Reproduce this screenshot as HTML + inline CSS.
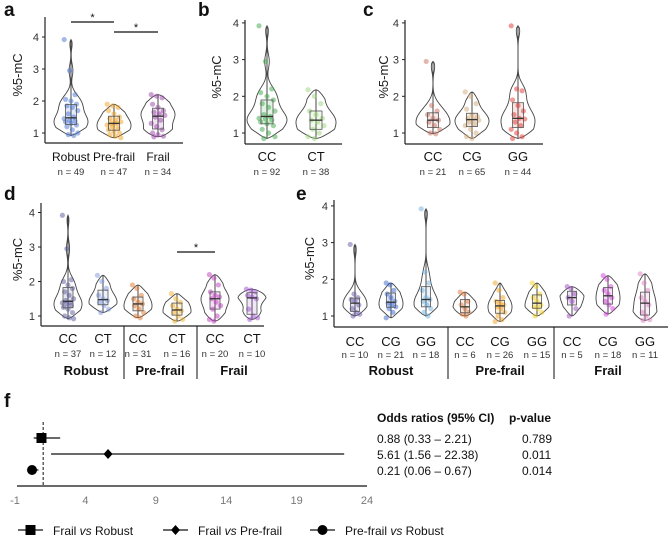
<!DOCTYPE html>
<html><head><meta charset="utf-8"><style>
html,body{margin:0;padding:0;background:#fff}
svg{display:block;font-family:"Liberation Sans",Arial,sans-serif}
</style></head><body>
<svg id="fig" width="669" height="540" viewBox="0 0 669 540" xmlns="http://www.w3.org/2000/svg"></svg>
<script>
// ---------- data ----------
const aCategories=["Robust","Pre-frail","Frail"];
const aCounts=[49,47,34];
const aRobust=[3.92,2.95,2.2,2.05,2.0,1.9,1.85,1.8,1.7,1.6,1.5,1.45,1.4,1.38,1.35,1.3,1.25,1.2,1.1,1.0,0.95,0.92];
const aPrefrail=[1.9,1.85,1.8,1.7,1.6,1.5,1.45,1.4,1.35,1.3,1.3,1.25,1.2,1.15,1.1,1.05,1.0,0.95,0.9,0.85];
const aFrail=[2.2,2.15,2.1,1.9,1.8,1.7,1.65,1.6,1.55,1.5,1.4,1.3,1.2,1.1,1.0,0.95,0.9,0.88];
const bCategories=["CC","CT"];
const bCounts=[92,38];
const bCC=[3.92,2.95,2.2,2.1,2.0,1.9,1.8,1.7,1.6,1.5,1.45,1.4,1.38,1.35,1.3,1.25,1.2,1.1,1.0,0.9,0.85];
const bCT=[2.18,2.0,1.8,1.6,1.5,1.4,1.35,1.3,1.2,1.1,1.0,0.9,0.85];
const cCategories=["CC","CG","GG"];
const cCounts=[21,65,44];
const cCC=[2.95,1.75,1.6,1.5,1.4,1.35,1.3,1.2,1.1,1.0,0.98];
const cCG=[2.12,2.0,1.8,1.65,1.5,1.45,1.4,1.38,1.35,1.3,1.25,1.2,1.1,1.0,0.9,0.85];
const cGG=[3.92,2.2,2.15,1.9,1.75,1.6,1.5,1.4,1.38,1.3,1.2,1.1,1.0,0.9,0.85];
const dCategories=["CC","CT","CC","CT","CC","CT"];
const dCounts=[37,12,31,16,20,10];
const dGroups=["Robust","Pre-frail","Frail"];
const dRobCC=[3.92,2.95,2.05,2.0,1.9,1.8,1.7,1.6,1.5,1.45,1.4,1.38,1.35,1.3,1.25,1.2,1.1,1.0,0.95,0.92];
const dRobCT=[2.18,2.0,1.8,1.6,1.5,1.45,1.4,1.3,1.2,1.1];
const dPreCC=[1.9,1.8,1.6,1.5,1.4,1.35,1.3,1.2,1.1,1.0,0.95];
const dPreCT=[1.65,1.5,1.4,1.3,1.2,1.15,1.1,1.0,0.9,0.85];
const dFraCC=[2.2,2.1,1.9,1.7,1.6,1.55,1.5,1.4,1.3,1.2,1.0,0.9,0.85];
const dFraCT=[1.78,1.75,1.7,1.6,1.55,1.5,1.2,1.0,0.95,0.9];
const eCategories=["CC","CG","GG","CC","CG","GG","CC","CG","GG"];
const eCounts=[10,21,18,6,26,15,5,18,11];
const eRobCC=[2.95,1.6,1.5,1.45,1.4,1.3,1.2,1.1,1.05,1.0];
const eRobCG=[1.9,1.85,1.7,1.6,1.5,1.4,1.35,1.3,1.25,1.2,1.1,0.95];
const eRobGG=[3.92,2.2,1.9,1.7,1.5,1.45,1.4,1.3,1.2,1.1,1.0];
const ePreCC=[1.65,1.6,1.4,1.3,1.2,1.1,1.05,1.0];
const ePreCG=[1.9,1.7,1.5,1.4,1.35,1.3,1.25,1.2,1.1,1.0,0.9,0.85];
const ePreGG=[1.9,1.8,1.6,1.5,1.4,1.3,1.25,1.2,1.1,1.0];
const eFraCC=[1.8,1.75,1.6,1.5,1.4,1.2,1.0];
const eFraCG=[2.1,2.0,1.8,1.7,1.6,1.5,1.4,1.3,1.2,1.05];
const eFraGG=[2.15,1.9,1.7,1.5,1.4,1.3,1.1,1.0,0.9,0.88];
const yTicks=[1,2,3,4];
const fLabels=["Frail vs Robust","Frail vs Pre-frail","Pre-frail vs Robust"];
const fOR=[0.88,5.61,0.21];
const fLow=[0.33,1.56,0.06];
const fHigh=[2.21,22.38,0.67];
const fP=["0.789","0.011","0.014"];
const fTicks=[-1,4,9,14,19,24];

// ---------- helpers ----------
const svg=document.getElementById('fig');
const NS="http://www.w3.org/2000/svg";
function mk(tag,attrs,parent,text){const e=document.createElementNS(NS,tag);for(const k in attrs)e.setAttribute(k,attrs[k]);if(text!==undefined)e.textContent=text;(parent||svg).appendChild(e);return e;}
function quant(s,p){const a=[...s].sort((x,y)=>x-y);const i=(a.length-1)*p;const lo=Math.floor(i),hi=Math.ceil(i);return a[lo]+(a[hi]-a[lo])*(i-lo);}

function panel(cfg){
  const g=mk('g',{});
  
  
  const Y=v=>cfg.y1-(v-1)*cfg.unit;
  const L=mk('text',{x:cfg.letterX,y:cfg.letterY,'font-size':19,'font-weight':'bold',fill:'#111'},g,cfg.letter);
  
  
  const t=mk('text',{transform:`translate(${cfg.titleX},${(cfg.top+cfg.bottom)/2-5}) rotate(-90)`,'text-anchor':'middle','font-size':13,fill:'#222'},g,'%5-mC');
  
  
  const ya=mk('line',{x1:cfg.ax,y1:cfg.top,x2:cfg.ax,y2:cfg.bottom,stroke:'#222','stroke-width':1.2},g);
  
  
  const xa=mk('line',{x1:cfg.ax,y1:cfg.bottom,x2:cfg.axEnd,y2:cfg.bottom,stroke:'#222','stroke-width':1.2},g);
  
  
  yTicks.forEach(v=>{
    mk('line',{x1:cfg.ax-3,x2:cfg.ax,y1:Y(v),y2:Y(v),stroke:'#222'},g);
    const tl=mk('text',{x:cfg.ax-6,y:Y(v)+4,'text-anchor':'end','font-size':11,fill:'#333'},g,String(v));
    
    
  });
  cfg.groups.forEach((gr,gi)=>{
    const x=cfg.xs[gi];
    const vals=gr.vals;
    const mn=Math.min(...vals),mx=Math.max(...vals);
    const h=0.2,steps=60,dens=[];
    for(let s=0;s<=steps;s++){const v=mn+(mx-mn)*s/steps;let d=0;vals.forEach(u=>{const z=(v-u)/h;d+=Math.exp(-0.5*z*z);});
      const taper=Math.min(1,(v-mn)/0.25,(mx-v)/0.25);d*=Math.sqrt(Math.max(0,taper));dens.push([v,d]);}
    const dmax=Math.max(...dens.map(d=>d[1]));
    let right=dens.map(d=>`${x+d[1]/dmax*cfg.hw},${Y(d[0])}`);
    let left=dens.slice().reverse().map(d=>`${x-d[1]/dmax*cfg.hw},${Y(d[0])}`);
    mk('line',{x1:x,x2:x,y1:Y(mn),y2:Y(mx),stroke:'#333','stroke-width':0.9},g);
    const vp=mk('polygon',{points:right.concat(left).join(' '),fill:'none',stroke:'#444','stroke-width':0.9},g);
    
    
    vals.forEach((v,i)=>{
      const off=(((i*37)%11)-5)/5*cfg.hw*0.4;
      const c=mk('circle',{cx:x+off,cy:Y(v),r:2.6,fill:gr.color,'fill-opacity':0.5},g);
      
      
    });
    const q1=quant(vals,0.25),q2=quant(vals,0.5),q3=quant(vals,0.75);
    const bw=cfg.bw;
    const b=mk('rect',{x:x-bw/2,y:Y(q3),width:bw,height:Y(q1)-Y(q3),fill:gr.color,'fill-opacity':0.15,stroke:'#555','stroke-width':0.8},g);
    
    
    mk('line',{x1:x-bw/2,x2:x+bw/2,y1:Y(q2),y2:Y(q2),stroke:'#333','stroke-width':1.3},g);
    const cl=mk('text',{x:x,y:cfg.labY,'text-anchor':'middle','font-size':cfg.labFs||13,fill:'#111'},g,gr.label);
    
    
    const nl=mk('text',{x:x,y:cfg.nY,'text-anchor':'middle','font-size':9.5,fill:'#333'},g,'n = '+gr.n);
    
    
  });
  (cfg.seps||[]).forEach(sx=>{mk('line',{x1:sx,x2:sx,y1:cfg.bottom,y2:cfg.groupY+4,stroke:'#222','stroke-width':1.1},g);});
  (cfg.groupLabels||[]).forEach((gl,i)=>{
    const tt=mk('text',{x:cfg.groupXs[i],y:cfg.groupY,'text-anchor':'middle','font-size':13,'font-weight':'bold',fill:'#111'},g,gl);
    
    
  });
  (cfg.sig||[]).forEach(s=>{
    mk('line',{x1:cfg.xs[s[0]],x2:cfg.xs[s[1]],y1:s[2],y2:s[2],stroke:'#111','stroke-width':1.2},g);
    const st=mk('text',{x:(cfg.xs[s[0]]+cfg.xs[s[1]])/2,y:s[2]-1,'text-anchor':'middle','font-size':11,fill:'#111'},g,'*');
    
    
  });
}
function grp(vals,color,label,n,key){return {vals,color,label,n,key};}

panel({name:'panel-a',letter:'a',letterX:4,letterY:16,titleX:22,ax:45,axEnd:183,top:17,bottom:143,y1:133,unit:32,hw:17,bw:11,labY:161,nY:175,labFs:12,
  xs:[71,114,158],groups:[grp(aRobust,'#4a74d0',aCategories[0],aCounts[0],'robust'),grp(aPrefrail,'#f0a020',aCategories[1],aCounts[1],'prefrail'),grp(aFrail,'#9a44a8',aCategories[2],aCounts[2],'frail')],
  sig:[[0,1,22],[1,2,32]]});
panel({name:'panel-b',letter:'b',letterX:198,letterY:16,titleX:221,ax:245,axEnd:342,top:20,bottom:144,y1:133,unit:36.7,hw:20,bw:12,labY:161,nY:175,
  xs:[267,316],groups:[grp(bCC,'#3ea84a',bCategories[0],bCounts[0],'cc'),grp(bCT,'#9ad57a',bCategories[1],bCounts[1],'ct')]});
panel({name:'panel-c',letter:'c',letterX:363,letterY:16,titleX:388,ax:405,axEnd:543,top:20,bottom:144,y1:133,unit:36.7,hw:17,bw:11,labY:161,nY:175,
  xs:[433,472,518],groups:[grp(cCC,'#c87060',cCategories[0],cCounts[0],'cc'),grp(cCG,'#d2a878',cCategories[1],cCounts[1],'cg'),grp(cGG,'#e03a34',cCategories[2],cCounts[2],'gg')]});
panel({name:'panel-d',letter:'d',letterX:4,letterY:200,titleX:22,ax:41,axEnd:264,top:203,bottom:326,y1:316,unit:34.5,hw:14,bw:10,labY:343,nY:357,
  xs:[68,103,138,177,215,252],groups:[grp(dRobCC,'#5a5a98',dCategories[0],dCounts[0],'robust-cc'),grp(dRobCT,'#7e98e0',dCategories[1],dCounts[1],'robust-ct'),grp(dPreCC,'#e07a30',dCategories[2],dCounts[2],'prefrail-cc'),grp(dPreCT,'#f2b22a',dCategories[3],dCounts[3],'prefrail-ct'),grp(dFraCC,'#c03cc0',dCategories[4],dCounts[4],'frail-cc'),grp(dFraCT,'#a050d0',dCategories[5],dCounts[5],'frail-ct')],
  seps:[124,197],groupLabels:dGroups,groupXs:[86,160,234],groupY:375,sig:[[3,4,252]]});
panel({name:'panel-e',letter:'e',letterX:296,letterY:200,titleX:314,ax:334,axEnd:668,top:200,bottom:327,y1:316,unit:36.7,hw:12,bw:9,labY:346,nY:358,
  xs:[355,391,426,465,500,537,572,608,645],groups:[grp(eRobCC,'#6a5aa8',eCategories[0],eCounts[0],'robust-cc'),grp(eRobCG,'#3a66cc',eCategories[1],eCounts[1],'robust-cg'),grp(eRobGG,'#70b0e0',eCategories[2],eCounts[2],'robust-gg'),grp(ePreCC,'#e07a40',eCategories[3],eCounts[3],'prefrail-cc'),grp(ePreCG,'#f0a020',eCategories[4],eCounts[4],'prefrail-cg'),grp(ePreGG,'#f2d020',eCategories[5],eCounts[5],'prefrail-gg'),grp(eFraCC,'#9a50c0',eCategories[6],eCounts[6],'frail-cc'),grp(eFraCG,'#d040d8',eCategories[7],eCounts[7],'frail-cg'),grp(eFraGG,'#e080c0',eCategories[8],eCounts[8],'frail-gg')],
  seps:[448,554],groupLabels:dGroups,groupXs:[391,500,608],groupY:375});

// ---------- panel f (forest) ----------
const fg=mk('g',{});


const FX=v=>15+(v+1)*14.08;
const fRowY=[438,454,470];
const fl=mk('text',{x:4,y:407,'font-size':19,'font-weight':'bold',fill:'#111'},fg,'f');


const fax=mk('line',{x1:17,x2:367,y1:486,y2:486,stroke:'#111','stroke-width':1.3},fg);


fTicks.forEach(v=>{
  const t=mk('text',{x:FX(v),y:504,'text-anchor':'middle','font-size':11,fill:'#777'},fg,String(v));
  
  
});
const ref=mk('line',{x1:FX(1),x2:FX(1),y1:422,y2:486,stroke:'#111','stroke-dasharray':'3,2','stroke-width':1},fg);


function marker(i,cx,cy,parent){
  let m;
  if(i===0)m=mk('rect',{x:cx-5,y:cy-5,width:10,height:10,fill:'#000'},parent);
  else if(i===1)m=mk('polygon',{points:`${cx},${cy-5} ${cx+4.5},${cy} ${cx},${cy+5} ${cx-4.5},${cy}`,fill:'#000'},parent);
  else m=mk('circle',{cx:cx,cy:cy,r:5,fill:'#000'},parent);
  return m;
}
fOR.forEach((v,i)=>{
  const y=fRowY[i];
  const ci=mk('line',{x1:FX(fLow[i]),x2:FX(fHigh[i]),y1:y,y2:y,stroke:'#111','stroke-width':1.2},fg);
  
  
  const m=marker(i,FX(v),y,fg);
  
  
  const r=mk('text',{x:377,y:y+5,'font-size':12,fill:'#111'},fg,`${v.toFixed(2)} (${fLow[i].toFixed(2)} – ${fHigh[i].toFixed(2)})`);
  
  
  const p=mk('text',{x:522,y:y+5,'font-size':12,fill:'#111'},fg,fP[i]);
  
  
});
const h1=mk('text',{x:377,y:422,'font-size':12,'font-weight':'bold',fill:'#111'},fg,'Odds ratios (95% CI)');


const h2=mk('text',{x:509,y:422,'font-size':12,'font-weight':'bold',fill:'#111'},fg,'p-value');


const legX=[18,163,310];
fLabels.forEach((lab,i)=>{
  const lg=mk('g',{},fg);
  
  
  mk('line',{x1:legX[i],x2:legX[i]+25,y1:530,y2:530,stroke:'#111','stroke-width':1.3},lg);
  marker(i,legX[i]+12.5,530,lg);
  const parts=lab.split(' vs ');
  const t=mk('text',{x:legX[i]+35,y:535,'font-size':12,fill:'#111'},lg);
  mk('tspan',{},t,parts[0]+' ');
  mk('tspan',{'font-style':'italic'},t,'vs');
  mk('tspan',{},t,' '+parts[1]);
});
</script>
</body></html>
